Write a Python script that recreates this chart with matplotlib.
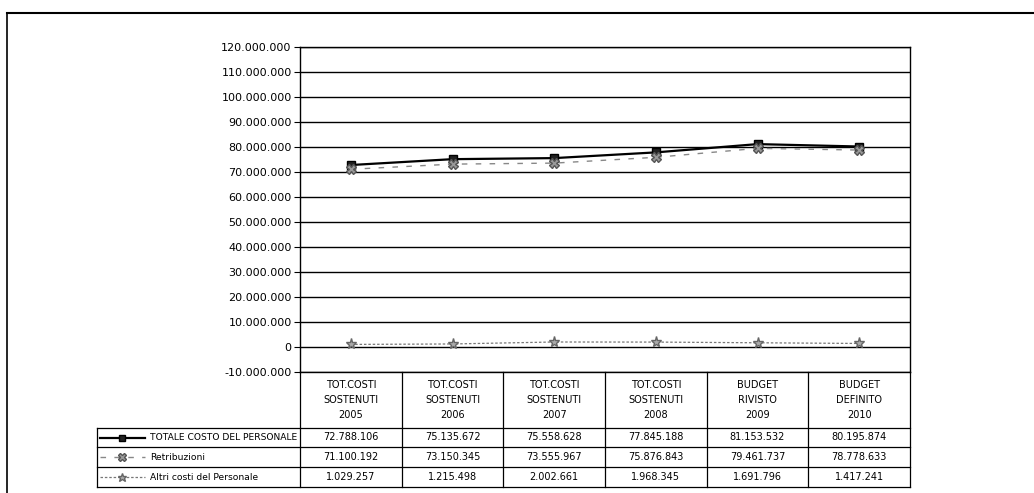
import numpy as np
import matplotlib.pyplot as plt

categorie = ["TOT.COSTI\nSOSTENUTI\n2005", "TOT.COSTI\nSOSTENUTI\n2006", "TOT.COSTI\nSOSTENUTI\n2007",
             "TOT.COSTI\nSOSTENUTI\n2008", "BUDGET\nRIVISTO\n2009", "BUDGET\nDEFINITO\n2010"]
totale = [72788106, 75135672, 75558628, 77845188, 81153532, 80195874]
retribuzioni = [71100192, 73150345, 73555967, 75876843, 79461737, 78778633]
altri = [1029257, 1215498, 2002661, 1968345, 1691796, 1417241]
serie_nomi = ["TOTALE COSTO DEL PERSONALE", "Retribuzioni", "Altri costi del Personale"]

plt.rcParams['font.family'] = ['Liberation Sans Narrow', 'DejaVu Sans']

def fmt(v):
    s = f"{abs(v):,}".replace(",", ".")
    return ("-" if v < 0 else "") + s

W, H = 1034, 493
fig = plt.figure(figsize=(W / 100, H / 100), dpi=100)

x0, x1, ytop, ybot = 300, 910, 47, 372
ax = fig.add_axes([x0 / W, 1 - ybot / H, (x1 - x0) / W, (ybot - ytop) / H])
n = len(categorie)
xs = np.arange(n)
ax.set_xlim(-0.5, n - 0.5)
ax.set_ylim(-10000000, 120000000)
ticks = np.arange(-10000000, 120000001, 10000000)
ax.set_yticks(ticks)
ax.set_yticklabels([fmt(int(t)) for t in ticks], fontsize=8)
ax.set_xticks([])
for t in ticks:
    ax.axhline(t, color='black', lw=1.0, zorder=0)
for s in ax.spines.values():
    s.set_color('black')
    s.set_linewidth(1.0)
ax.tick_params(axis='y', length=4, width=0.8, direction='out', pad=2)

stili = [dict(color='black', ls='-', lw=1.6, marker='s', ms=6, mfc='#222222', mec='black'),
         dict(color='#888888', ls=(0, (4, 6)), lw=1.0, marker='X', ms=7, mfc='#999999', mec='#555555'),
         dict(color='#777777', ls=(0, (2, 1.5)), lw=0.9, marker='*', ms=8, mfc='#aaaaaa', mec='#666666')]
for dati, st in zip([totale, retribuzioni, altri], stili):
    ax.plot(xs, dati, zorder=3, **st)

# tabella dati
ov = fig.add_axes([0, 0, 1, 1])
ov.set_xlim(0, W)
ov.set_ylim(H, 0)
ov.axis('off')
cw = (x1 - x0) / n
bordi = [x0 + i * cw for i in range(n + 1)]
yh, righe = 428, [428, 447, 467, 487]
ov.plot([7, 7], [13, H], color='black', lw=1.2)
ov.plot([7, W], [13, 13], color='black', lw=1.5)
for b in bordi:
    ov.plot([b, b], [ybot, righe[-1]], color='black', lw=0.9)
ov.plot([97, 97], [yh, righe[-1]], color='black', lw=0.9)
for r in righe:
    ov.plot([97, x1], [r, r], color='black', lw=0.9)
for i, c in enumerate(categorie):
    ov.text(bordi[i] + cw / 2, (ybot + yh) / 2, c, ha='center', va='center', fontsize=7, linespacing=1.6)
for j, (nome, dati, st) in enumerate(zip(serie_nomi, [totale, retribuzioni, altri], stili)):
    ym = (righe[j] + righe[j + 1]) / 2
    ov.plot([100, 145], [ym, ym], color=st['color'], ls=st['ls'], lw=st['lw'])
    ov.plot([122], [ym], marker=st['marker'], ms=st['ms'] * 0.8, mfc=st['mfc'], mec=st['mec'], ls='none')
    ov.text(150, ym, nome, ha='left', va='center', fontsize=6.6)
    for i, v in enumerate(dati):
        ov.text(bordi[i] + cw / 2, ym, fmt(v), ha='center', va='center', fontsize=7)

fig.savefig('out.png', dpi=100)
